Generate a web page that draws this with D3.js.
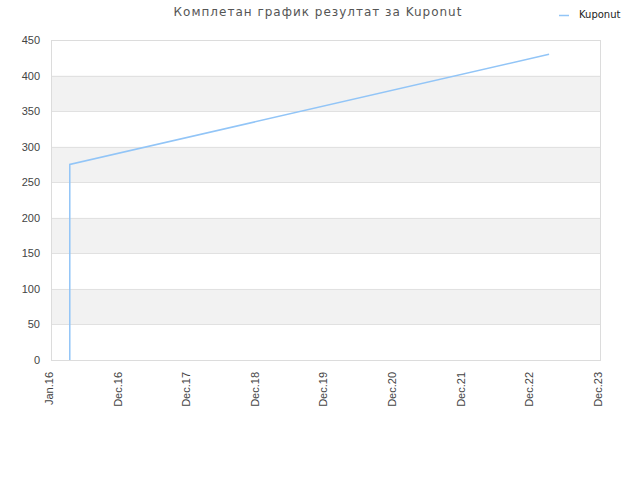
<!DOCTYPE html>
<html>
<head>
<meta charset="utf-8">
<script src="https://cdn.jsdelivr.net/npm/d3@7"></script>
<style>
  body { margin: 0; background: #fff; }
  svg { font-family: "DejaVu Sans", sans-serif; }
</style>
</head>
<body>
<svg id="chart" width="640" height="480"></svg>
<script>
var title = "Комплетан график резултат за Kuponut";
var seriesName = "Kuponut";

// x axis ticks (one per year)
var tickDates = ["2015-12-01", "2016-12-01", "2017-12-01", "2018-12-01", "2019-12-01",
                 "2020-12-01", "2021-12-01", "2022-12-01", "2023-12-01"];
var tickLabels = ["Jan.16", "Dec.16", "Dec.17", "Dec.18", "Dec.19",
                  "Dec.20", "Dec.21", "Dec.22", "Dec.23"];

// series
var dates  = ["2016-03-10", "2016-03-10", "2016-03-10", "2016-03-10", "2016-03-10",
              "2016-03-10", "2016-03-10", "2023-03-05"];
var values = [0, 3, 19, 39, 63, 91, 275, 430];

var yTicks = [0, 50, 100, 150, 200, 250, 300, 350, 400, 450];

var parse = d3.timeParse("%Y-%m-%d");
var data = dates.map(function (d, i) { return { date: parse(d), value: values[i] }; });

var margin = { left: 51, right: 40, top: 40, bottom: 120 };
var width = 640 - margin.left - margin.right,
    height = 480 - margin.top - margin.bottom;

var svg = d3.select("#chart");

var x = d3.scaleTime()
    .domain([parse(tickDates[0]), parse(tickDates[tickDates.length - 1])])
    .range([0, width]);

var y = d3.scaleLinear()
    .domain([0, 450])
    .range([height, 0]);

var g = svg.append("g")
    .attr("transform", "translate(" + margin.left + "," + margin.top + ")");

// alternating bands
var bands = d3.range(0, yTicks.length - 1).filter(function (i) { return i % 2 === 1; });
g.selectAll("rect.band")
    .data(bands)
  .enter().append("rect")
    .attr("class", "band")
    .attr("x", 0)
    .attr("width", width)
    .attr("y", function (i) { return y(yTicks[i + 1]); })
    .attr("height", function (i) { return y(yTicks[i]) - y(yTicks[i + 1]); })
    .attr("fill", "#f2f2f2");

// horizontal grid
g.selectAll("line.grid")
    .data(yTicks)
  .enter().append("line")
    .attr("x1", 0)
    .attr("x2", width)
    .attr("y1", function (d) { return Math.round(y(d)) + 0.5; })
    .attr("y2", function (d) { return Math.round(y(d)) + 0.5; })
    .attr("stroke", "#e1e1e1");

// frame
g.append("rect")
    .attr("x", 0.5)
    .attr("y", 0.5)
    .attr("width", width)
    .attr("height", height)
    .attr("fill", "none")
    .attr("stroke", "#dcdcdc");

// y axis
var yAxis = d3.axisLeft(y).tickValues(yTicks).tickSize(0).tickPadding(11);
g.append("g")
    .call(yAxis)
    .call(function (a) { a.select(".domain").remove(); })
    .selectAll("text")
    .attr("fill", "#444")
    .style("font-size", "11px");

// x axis
var xAxis = d3.axisBottom(x)
    .tickValues(tickDates.map(parse))
    .tickFormat(function (d, i) { return tickLabels[i]; })
    .tickSize(0);
g.append("g")
    .attr("transform", "translate(0," + height + ")")
    .call(xAxis)
    .call(function (a) { a.select(".domain").remove(); })
    .selectAll("text")
    .attr("fill", "#444")
    .style("font-size", "11px")
    .attr("text-anchor", "end")
    .attr("dy", "0.3em")
    .attr("transform", "translate(-2,12) rotate(-90)")
    .attr("x", 0)
    .attr("y", 0);

// series line
var line = d3.line()
    .x(function (d) { return x(d.date); })
    .y(function (d) { return y(d.value); });

g.append("path")
    .datum(data)
    .attr("fill", "none")
    .attr("stroke", "#92c5f7")
    .attr("stroke-width", 1.5)
    .attr("d", line);

// title
svg.append("text")
    .attr("x", 318)
    .attr("y", 16)
    .attr("text-anchor", "middle")
    .attr("fill", "#555")
    .style("font-size", "12px")
    .style("letter-spacing", "1px")
    .text(title);

// legend
svg.append("line")
    .attr("x1", 559)
    .attr("x2", 569)
    .attr("y1", 15.5)
    .attr("y2", 15.5)
    .attr("stroke", "#92c5f7")
    .attr("stroke-width", 1.5);
svg.append("text")
    .attr("x", 579)
    .attr("y", 18)
    .attr("fill", "#222")
    .style("font-size", "10px")
    .text(seriesName);
</script>
</body>
</html>
